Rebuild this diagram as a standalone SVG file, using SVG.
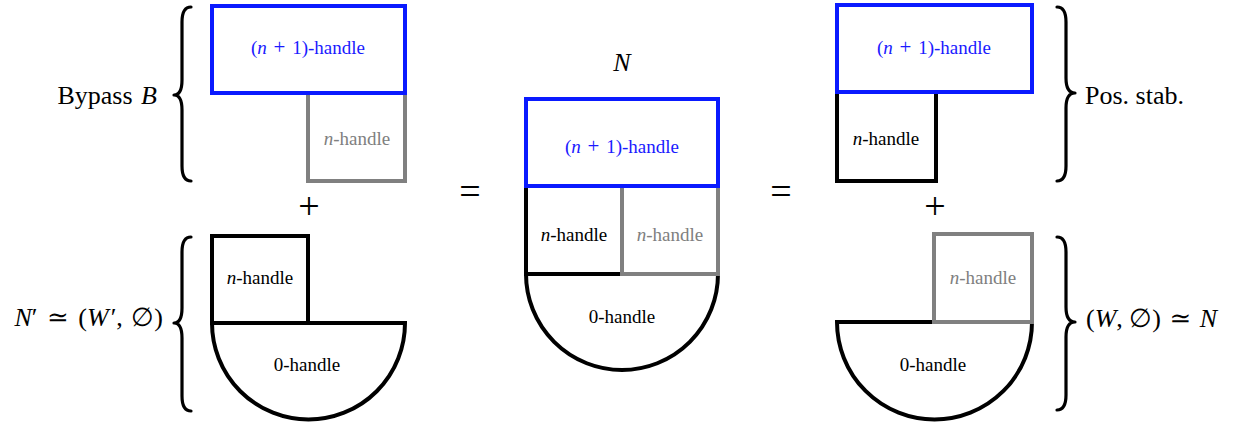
<svg xmlns="http://www.w3.org/2000/svg" width="1236" height="424" viewBox="0 0 1236 424" font-family="'Liberation Serif', 'Times New Roman', 'DejaVu Serif', serif">
<style>
  text { font-family: 'Liberation Serif', 'Times New Roman', 'DejaVu Serif', serif; fill: #000; }
  .h { font-size: 19px; text-anchor: middle; }
  .blueT { fill: #1a1aff; }
  .grayT { fill: #808080; }
  .lbl { font-size: 26px; }
  .it { font-style: italic; }
  .pl { font-size: 21px; }
  .box { fill: #fff; stroke-width: 4; stroke-linejoin: miter; }
  .blue { stroke: #0a1aff; }
  .gray { stroke: #808080; }
  .blk { stroke: #000; }
  .brace { fill: none; stroke: #000; stroke-width: 3.2; stroke-linecap: round; stroke-linejoin: round; }
  .op { font-size: 38px; text-anchor: middle; }
</style>
<rect width="1236" height="424" fill="#fff"/>

<!-- Left top: Bypass B -->
<g id="bypass">
  <rect class="box gray" x="308" y="93" width="97" height="88"/>
  <rect class="box blue" x="212" y="6" width="193" height="87"/>
  <text class="h blueT" x="308" y="54">(<tspan class="it">n</tspan> <tspan dx="2" class="pl">+</tspan> <tspan dx="2">1)-handle</tspan></text>
  <text class="h grayT" x="357" y="145"><tspan class="it">n</tspan>-handle</text>
</g>
<g id="bypass-label">
  <path class="brace" d="M191,7 Q182,7 182,22 L182,80 Q182,95 174,95 Q182,95 182,110 L182,166 Q182,181 191,181"/>
  <text class="lbl" x="157" y="104" text-anchor="end">Bypass <tspan class="it" dx="2">B</tspan></text>
</g>

<text class="op" x="309" y="219">+</text>

<!-- Left bottom: N' -->
<g id="nprime">
  <path class="box blk" d="M212,323 A96.5,96.5 0 0 0 405,323 Z"/>
  <rect class="box blk" x="212" y="236" width="96" height="87"/>
  <text class="h" x="260" y="284"><tspan class="it">n</tspan>-handle</text>
  <text class="h" x="307" y="371">0-handle</text>
</g>
<g id="nprime-label">
  <path class="brace" d="M191,237 Q182,237 182,252 L182,308 Q182,323 174,323 Q182,323 182,338 L182,396 Q182,411 191,411"/>
  <text class="lbl" x="163" y="326" text-anchor="end"><tspan class="it">N</tspan>′ <tspan dx="3">≃</tspan> <tspan dx="3">(</tspan><tspan class="it">W</tspan><tspan dx="2">′,</tspan> <tspan dx="2">∅)</tspan></text>
</g>

<text class="op" x="470" y="204">=</text>

<!-- Middle: N -->
<g id="N">
  <text class="lbl it" x="622" y="71" text-anchor="middle">N</text>
  <path class="box blk" d="M526,274 A96,96 0 0 0 718,274 Z"/>
  <rect class="box blk" x="526" y="186" width="96" height="88"/>
  <rect class="box gray" x="622" y="186" width="96" height="88"/>
  <rect class="box blue" x="526" y="99" width="192" height="87"/>
  <text class="h blueT" x="622" y="153">(<tspan class="it">n</tspan> <tspan dx="2" class="pl">+</tspan> <tspan dx="2">1)-handle</tspan></text>
  <text class="h" x="574" y="241"><tspan class="it">n</tspan>-handle</text>
  <text class="h grayT" x="670" y="241"><tspan class="it">n</tspan>-handle</text>
  <text class="h" x="622" y="323">0-handle</text>
</g>

<text class="op" x="781" y="204">=</text>

<!-- Right top: Pos. stab. -->
<g id="posstab">
  <rect class="box blk" x="837" y="92" width="99" height="89"/>
  <rect class="box blue" x="837" y="5" width="195" height="87"/>
  <text class="h blueT" x="934" y="54">(<tspan class="it">n</tspan> <tspan dx="2" class="pl">+</tspan> <tspan dx="2">1)-handle</tspan></text>
  <text class="h" x="886" y="145"><tspan class="it">n</tspan>-handle</text>
</g>
<g id="posstab-label">
  <path class="brace" d="M1057,7 Q1066,7 1066,22 L1066,78 Q1066,93 1075,93 Q1066,93 1066,108 L1066,166 Q1066,181 1057,181"/>
  <text class="lbl" x="1085" y="104">Pos. stab.</text>
</g>

<text class="op" x="935" y="219">+</text>

<!-- Right bottom: (W,∅) -->
<g id="W">
  <path class="box blk" d="M837,322 A97.5,97.5 0 0 0 1032,322 Z"/>
  <rect class="box gray" x="934" y="234" width="98" height="88"/>
  <text class="h grayT" x="983" y="284"><tspan class="it">n</tspan>-handle</text>
  <text class="h" x="933" y="371">0-handle</text>
</g>
<g id="W-label">
  <path class="brace" d="M1057,237 Q1066,237 1066,252 L1066,307 Q1066,322 1075,322 Q1066,322 1066,337 L1066,395 Q1066,410 1057,410"/>
  <text class="lbl" x="1086" y="327">(<tspan class="it">W</tspan>, ∅) <tspan dx="2">≃</tspan> <tspan class="it" dx="2">N</tspan></text>
</g>
</svg>
